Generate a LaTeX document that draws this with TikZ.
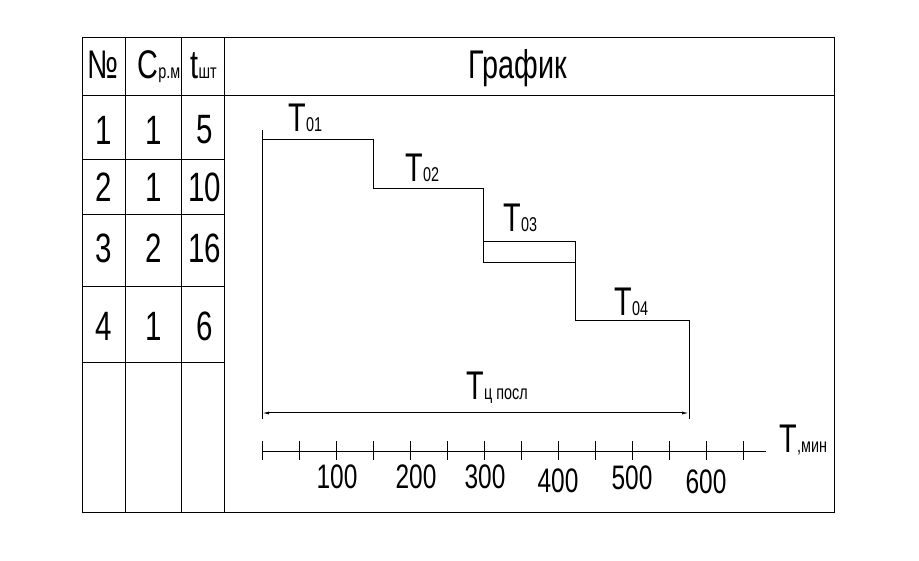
\documentclass[tikz,border=0pt]{standalone}
\usepackage{fontspec}
\setmainfont{Liberation Sans}[FakeStretch=0.72]
\usetikzlibrary{arrows.meta}
\tikzset{
    cell/.style={
        font=\fontsize{41}{41}\selectfont,
        inner sep=0pt
    },
    lbl/.style={
        font=\fontsize{40}{40}\selectfont,
        inner sep=0pt,
        anchor=base west
    },
    ticklbl/.style={
        font=\fontsize{34}{34}\selectfont,
        inner sep=0pt
    },
    steps/.style={line width=1pt}
}
\newcommand{\low}[1]{{\fontsize{20}{20}\selectfont #1}}

\begin{document}
\begin{tikzpicture}[x=1pt, y=-1pt, line width=1pt]
    \useasboundingbox (0,0) rectangle (919,561);

    % Frame and table
    \draw (82,38) rectangle (834,512);
    \draw (82,96) -- (834,96);
    \foreach \cx in {125,181,224}
        \draw (\cx,38) -- (\cx,512);
    \foreach \ry in {160,215,287,363}
        \draw (82,\ry) -- (224,\ry);

    % Header
    \node (hNo) [lbl] at (87,79) {№};
    \node (hC) [lbl] at (137,79) {C\low{р.м}};
    \node (hT) [lbl] at (190,79) {t\low{шт}};
    \node (hGraph) [lbl] at (468,79) {График};

    % Rows
    \foreach \n/\c/\t/\ry in {1/1/5/130, 2/1/10/187, 3/2/16/248, 4/1/6/326} {
        \node (no\n) [cell] at (104,\ry) {\n};
        \node (c\n) [cell] at (154,\ry) {\c};
        \node (t\n) [cell] at (205,\ry) {\t};
    }

    % Graph
    \coordinate (top) at (262,130);
    \coordinate (bot) at (262,419);
    \coordinate (end) at (689,419);
    \draw (top) -- (bot);
    \draw [steps] (262,140) -- (373,140) -- (373,189) -- (483,189)
        -- (483,263) -- (575,263) -- (575,321) -- (689,321) -- (end);
    \draw [steps] (483,242) -- (575,242) -- (575,263);

    \node (T1) [lbl] at (288,132) {T\low{01}};
    \node (T2) [lbl] at (405,182) {T\low{02}};
    \node (T3) [lbl] at (503,232) {T\low{03}};
    \node (T4) [lbl] at (614,316) {T\low{04}};

    % Cycle time
    \coordinate (a1) at (262,413);
    \coordinate (a2) at (689,413);
    \draw [{Latex[length=7pt,width=3pt]}-{Latex[length=7pt,width=3pt]}] (a1) -- (a2);
    \node (Tc) [lbl] at (466,400) {T\low{ц посл}};

    % Time axis
    \coordinate (ax0) at (262,451);
    \coordinate (ax1) at (766,451);
    \draw (ax0) -- (ax1);
    \foreach \i in {0,...,13}
        \draw (262+\i*37,441) -- (262+\i*37,460);
    \node (Tmin) [lbl] at (779,453) {T\low{,мин}};

    \node (v100) [ticklbl] at (337,477) {100};
    \node (v200) [ticklbl] at (416,477) {200};
    \node (v300) [ticklbl] at (485,477) {300};
    \node (v400) [ticklbl] at (558,481) {400};
    \node (v500) [ticklbl] at (632,478) {500};
    \node (v600) [ticklbl] at (706,482) {600};
\end{tikzpicture}
\end{document}
